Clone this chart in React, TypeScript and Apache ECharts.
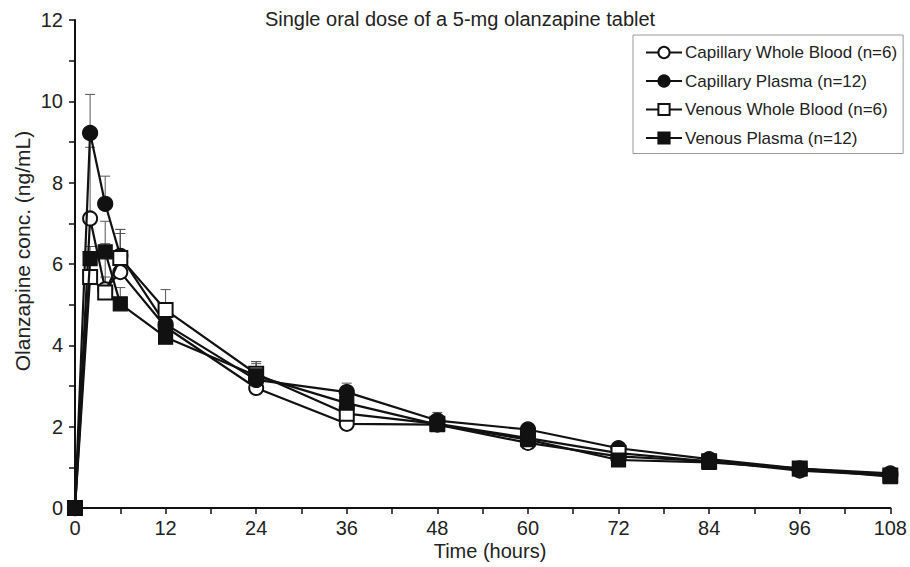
import React, { useEffect, useRef } from "react";
import * as echarts from "echarts";

const hours = [0, 2, 4, 6, 12, 24, 36, 48, 60, 72, 84, 96, 108];
const seriesNames = [
  "Capillary Whole Blood (n=6)",
  "Capillary Plasma (n=12)",
  "Venous Whole Blood (n=6)",
  "Venous Plasma (n=12)",
];
const capWhole = [0, 7.12, 5.38, 5.8, 4.45, 2.95, 2.07, 2.05, 1.6, 1.27, 1.15, 0.92, 0.8];
const capPlasma = [0, 9.22, 7.48, 6.2, 4.52, 3.15, 2.85, 2.15, 1.93, 1.47, 1.2, 0.97, 0.85];
const venWhole = [0, 5.68, 5.3, 6.15, 4.87, 3.3, 2.32, 2.07, 1.72, 1.35, 1.15, 0.97, 0.8];
const venPlasma = [0, 6.13, 6.3, 5.02, 4.2, 3.25, 2.58, 2.05, 1.68, 1.18, 1.12, 0.97, 0.77];

const capWholeSD = [0, 1.75, 0.3, 0.95, 0.3, 0.3, 0.1, 0.1, 0.1, 0.05, 0.05, 0.05, 0.05];
const capPlasmaSD = [0, 0.95, 0.68, 0.65, 0.35, 0.45, 0.22, 0.2, 0.14, 0.08, 0.06, 0.05, 0.05];
const venWholeSD = [0, 0.3, 1.2, 0.7, 0.5, 0.3, 0.2, 0.1, 0.1, 0.05, 0.05, 0.05, 0.05];
const venPlasmaSD = [0, 0.3, 0.75, 0.4, 0.3, 0.3, 0.2, 0.1, 0.1, 0.05, 0.05, 0.05, 0.05];

const titleText = "Single oral dose of a 5-mg olanzapine tablet";
const xName = "Time (hours)";
const yName = "Olanzapine conc. (ng/mL)";

const FONT = "'Liberation Sans', Arial, Helvetica, sans-serif";

export default function App() {
  const ref = useRef<HTMLDivElement>(null);
  useEffect(() => {
    if (!ref.current) return;
    const chart = echarts.init(ref.current, undefined, { renderer: "svg" });
    const values = [capWhole, capPlasma, venWhole, venPlasma];
    const sds = [capWholeSD, capPlasmaSD, venWholeSD, venPlasmaSD];
    const symbols = ["emptyCircle", "circle", "emptyRect", "rect"];
    const sizes = [14, 15, 14, 14];

    const lineSeries = values.map((v, i) => ({
      name: seriesNames[i],
      type: "line",
      data: hours.map((h, j) => [h, v[j]]),
      symbol: symbols[i],
      symbolSize: sizes[i],
      showAllSymbol: true,
      lineStyle: { color: "#111", width: 2.2 },
      itemStyle: { color: "#111", borderColor: "#111", borderWidth: 1.2 },
      z: 3 + i,
      emphasis: { disabled: true },
    }));

    const errSeries = values.map((v, i) => ({
      name: seriesNames[i] + " err",
      type: "custom",
      data: hours.map((h, j) => [h, v[j], v[j] + sds[i][j]]),
      z: 2,
      silent: true,
      renderItem: (params: any, api: any) => {
        const p0 = api.coord([api.value(0), api.value(1)]);
        const p1 = api.coord([api.value(0), api.value(2)]);
        const style = { stroke: "#555", lineWidth: 1 };
        return {
          type: "group",
          children: [
            { type: "line", shape: { x1: p0[0], y1: p0[1], x2: p1[0], y2: p1[1] }, style },
            { type: "line", shape: { x1: p1[0] - 5, y1: p1[1], x2: p1[0] + 5, y2: p1[1] }, style },
          ],
        };
      },
    }));

    chart.setOption({
      animation: false,
      textStyle: { fontFamily: FONT },
      grid: { left: 75, right: 17, top: 20, bottom: 59, containLabel: false },
      graphic: [
        {
          type: "text",
          x: 460,
          y: 19,
          style: {
            text: titleText,
            font: `20px ${FONT}`,
            fill: "#222",
            textAlign: "center",
            textVerticalAlign: "middle",
          },
        },
        {
          type: "text",
          x: 490,
          y: 551,
          style: {
            text: xName,
            font: `20px ${FONT}`,
            fill: "#222",
            textAlign: "center",
            textVerticalAlign: "middle",
          },
        },
        {
          type: "text",
          x: 22,
          y: 251,
          rotation: Math.PI / 2,
          style: {
            text: yName,
            font: `21px ${FONT}`,
            fill: "#222",
            textAlign: "center",
            textVerticalAlign: "middle",
          },
        },
      ],
      legend: {
        data: seriesNames,
        orient: "vertical",
        left: 633,
        top: 35,
        padding: [9, 6, 7, 12],
        itemWidth: 36,
        itemHeight: 14,
        itemGap: 11.5,
        borderColor: "#999",
        borderWidth: 1,
        textStyle: { fontSize: 17, color: "#222", fontFamily: FONT, padding: [0, 0, 0, -2] },
        selectedMode: false,
      },
      xAxis: {
        type: "value",
        min: 0,
        max: 108,
        interval: 12,
        axisLine: { lineStyle: { color: "#111", width: 2 } },
        axisTick: { show: true, length: 6, lineStyle: { color: "#111", width: 1.5 } },
        minorTick: { show: true, splitNumber: 2, length: 6, lineStyle: { color: "#111", width: 1.5 } },
        axisLabel: { fontSize: 20, color: "#222", margin: 10, fontFamily: FONT },
        splitLine: { show: false },
      },
      yAxis: {
        type: "value",
        min: 0,
        max: 12,
        interval: 2,
        axisLine: { show: true, lineStyle: { color: "#111", width: 2 } },
        axisTick: { show: true, length: 6, lineStyle: { color: "#111", width: 1.5 } },
        minorTick: { show: true, splitNumber: 2, length: 6, lineStyle: { color: "#111", width: 1.5 } },
        axisLabel: { fontSize: 20, color: "#222", margin: 12, fontFamily: FONT },
        splitLine: { show: false },
      },
      series: [...errSeries, ...lineSeries],
    });
    return () => chart.dispose();
  }, []);
  return (
    <div
      ref={ref}
      style={{ position: "absolute", left: 0, top: 0, width: 910, height: 567 }}
    />
  );
}
